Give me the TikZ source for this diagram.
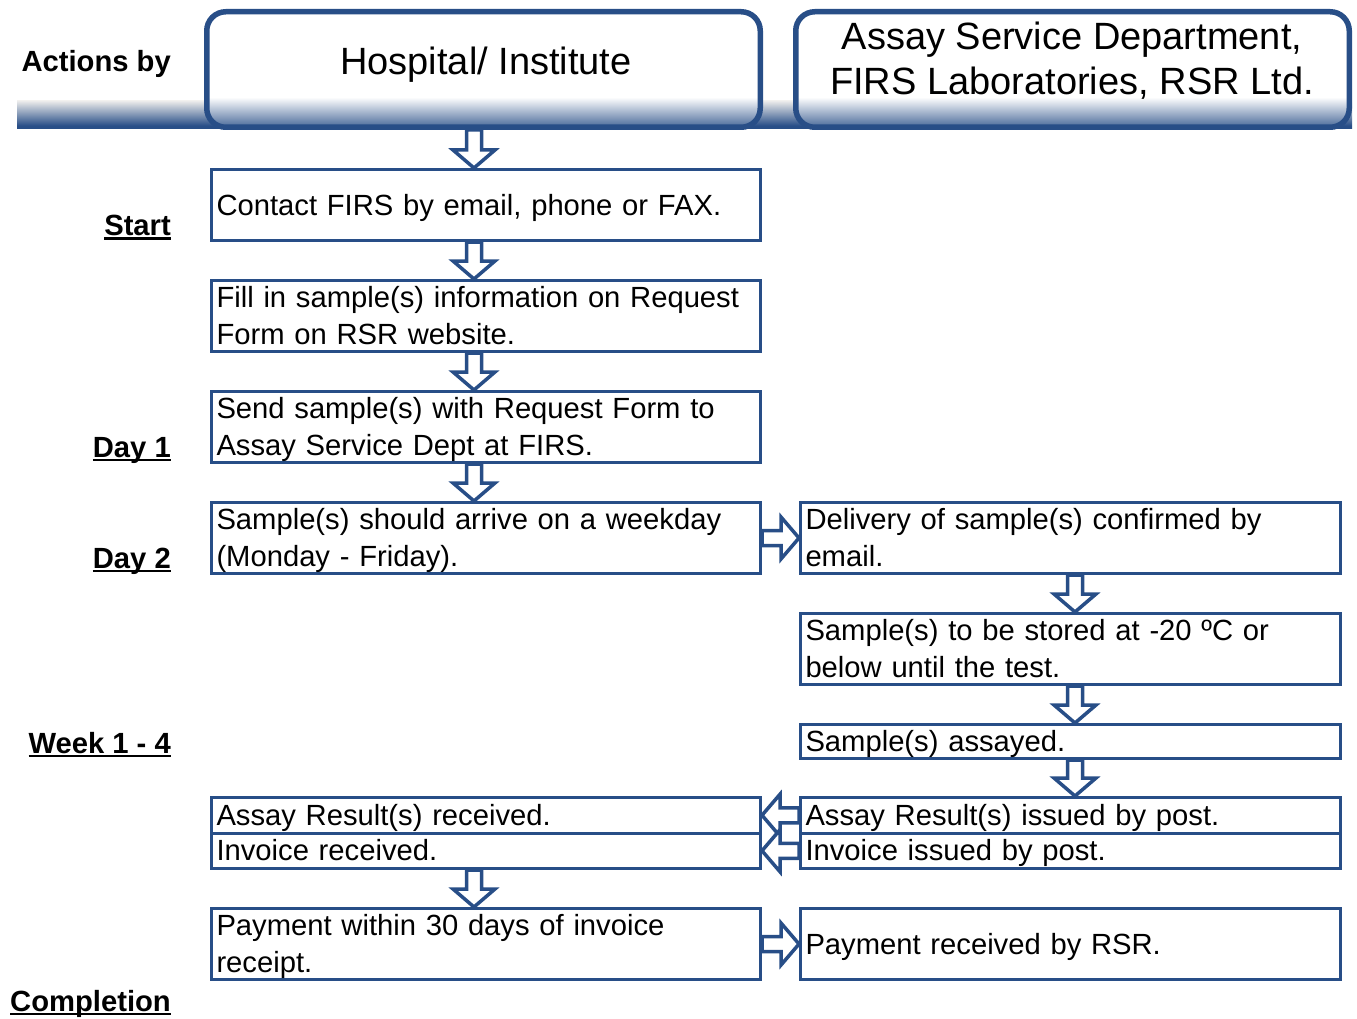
\documentclass[tikz,border=0pt]{standalone}
\usepackage{fontspec}
\setmainfont{Liberation Sans}
\usetikzlibrary{calc}
\definecolor{hblue}{RGB}{40,78,135}
\pgfdeclareverticalshading{hdrshade}{100bp}{color(0bp)=(hblue!85); color(25bp)=(hblue!85); color(38bp)=(white); color(100bp)=(white)}
\pgfdeclareverticalshading{bandshade}{100bp}{color(0bp)=(hblue); color(31bp)=(hblue); color(75bp)=(black!8); color(100bp)=(white)}
\newcommand\ulbold[1]{\setbox0\hbox{\bfseries #1}\rlap{\rule[-4pt]{\wd0}{2.5pt}}\box0}
\newcommand\mystrut{\rule[-7pt]{0pt}{34pt}}
\newcommand\barrow[2]{\draw[barrowstyle] let \p1=(#1), \p2=(#2), \n1={atan2(\y2-\y1,\x2-\x1)}, \n2={veclen(\x2-\x1,\y2-\y1)} in [shift={(\p1)}, rotate=\n1] (0pt,-7.5pt) -- ({\n2*1pt-18pt},-7.5pt) -- ({\n2*1pt-18pt},-21pt) -- ({\n2*1pt},0pt) -- ({\n2*1pt-18pt},21pt) -- ({\n2*1pt-18pt},7.5pt) -- (0pt,7.5pt) -- cycle;}
\tikzset{
  stepbox/.style={draw=hblue, line width=3pt, fill=white, inner xsep=5pt, inner ysep=0pt, text width=539pt, align=left, anchor=north west, minimum height=71pt, execute at begin node=\mystrut, execute at end node=\mystrut},
  rstepbox/.style={stepbox, text width=530pt},
  short/.style={minimum height=35.5pt},
  hdrbox/.style={draw=hblue, line width=5.5pt, rounded corners=19pt, shade, shading=hdrshade, anchor=north west, minimum height=115.5pt, minimum width=553.5pt, inner sep=0pt},
  hdrtext/.style={font=\fontsize{38}{45}\selectfont, align=center, inner sep=0pt},
  lbl/.style={anchor=base east, inner sep=0pt},
  barrowstyle/.style={draw=hblue, fill=white, line width=3.5pt, line join=miter}
}
\begin{document}
\begin{tikzpicture}[x=1pt, y=-1pt, font=\fontsize{29.2}{37}\selectfont]
\useasboundingbox (0,0) rectangle (1357,1019);
% header band
\shade[shading=bandshade] (17,101) rectangle (1352,129);
\node[hdrbox] (hdrL) at (204,9) {};
\node[hdrbox] (hdrR) at (793,9) {};
\node[hdrtext] (hdrLt) at (486,65) {Hospital/ Institute};
\node[hdrtext] (hdrRt) at (1072,61) {Assay Service Department,\\FIRS Laboratories, RSR Ltd.};
% left labels
\node[lbl] (lAct) at (171,72) {\bfseries Actions by};
\node[lbl] (lStart) at (171,236) {\ulbold{Start}};
\node[lbl] (lDay1) at (171,457) {\ulbold{Day 1}};
\node[lbl] (lDay2) at (171,568) {\ulbold{Day 2}};
\node[lbl] (lWeek) at (171,753) {\ulbold{Week 1 - 4}};
\node[lbl] (lComp) at (171,1011) {\ulbold{Completion}};
% left column
\node[stepbox] (b1) at (210,168) {Contact FIRS by email, phone or FAX.};
\node[stepbox] (b2) at (210,279) {Fill in sample(s) information on Request\\Form on RSR website.};
\node[stepbox] (b3) at (210,390) {Send sample(s) with Request Form to\\Assay Service Dept at FIRS.};
\node[stepbox] (b4) at (210,501) {Sample(s) should arrive on a weekday\\(Monday - Friday).};
\node[stepbox, short] (ar) at (210,796) {Assay Result(s) received.};
\node[stepbox, short] (inv) at (210,831.5) {Invoice received.};
\node[stepbox] (pay) at (210,907) {Payment within 30 days of invoice\\receipt.};
% right column
\node[rstepbox] (r1) at (799,501) {Delivery of sample(s) confirmed by\\email.};
\node[rstepbox] (r2) at (799,612) {Sample(s) to be stored at -20 ºC or\\below until the test.};
\node[rstepbox, minimum height=34pt] (r3) at (799,723) {Sample(s) assayed.};
\node[rstepbox, short] (r4) at (799,796) {Assay Result(s) issued by post.};
\node[rstepbox, short] (r5) at (799,831.5) {Invoice issued by post.};
\node[rstepbox] (r6) at (799,907) {Payment received by RSR.};
% arrows
\barrow{$(b1.north |- hdrL.south)+(-12,0)$}{$(b1.north)+(-12,0)$}
\barrow{$(b1.south)+(-12,0)$}{$(b2.north)+(-12,0)$}
\barrow{$(b2.south)+(-12,0)$}{$(b3.north)+(-12,0)$}
\barrow{$(b3.south)+(-12,0)$}{$(b4.north)+(-12,0)$}
\barrow{b4.east}{r1.west}
\barrow{$(r1.south)+(4.5,0)$}{$(r2.north)+(4.5,0)$}
\barrow{$(r2.south)+(4.5,0)$}{$(r3.north)+(4.5,0)$}
\barrow{$(r3.south)+(4.5,0)$}{$(r4.north)+(4.5,0)$}
\barrow{r4.west}{ar.east}
\barrow{r5.west}{inv.east}
\barrow{$(inv.south)+(-12,0)$}{$(pay.north)+(-12,0)$}
\barrow{pay.east}{r6.west}
\end{tikzpicture}
\end{document}
